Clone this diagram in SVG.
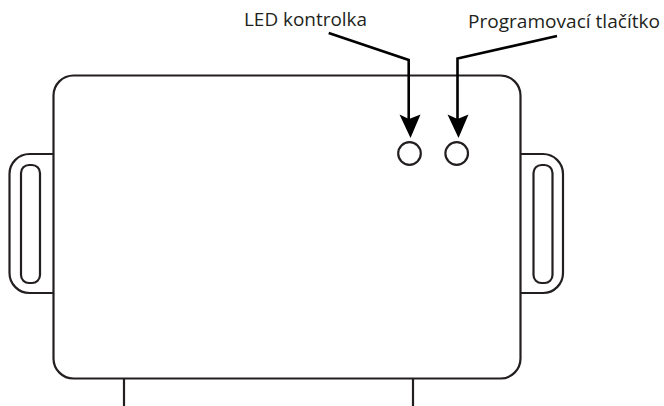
<svg xmlns="http://www.w3.org/2000/svg" width="664" height="406" viewBox="0 0 664 406">
<style>
.o{fill:none;stroke:#231f20;stroke-width:2.2}
.c{fill:none;stroke:#000;stroke-width:2.6}
.h{fill:#000}
text{font-family:"Open Sans","Noto Sans",sans-serif;font-size:18.500px;fill:#231f20}
</style>
<rect width="664" height="406" fill="#fff"/>
<g id="body"><rect class="o" x="53.5" y="75.5" width="467" height="303" rx="20" ry="20"/></g>
<g id="tab-left"><path class="o" d="M53.5 154H29.5a20 20 0 0 0-20 20V273a20 20 0 0 0 20 20H53.5"/><rect class="o" x="21" y="165" width="19" height="118" rx="8"/></g>
<g id="tab-right"><path class="o" d="M520.5 154H543a20 20 0 0 1 20 20V273a20 20 0 0 1-20 20H520.5"/><rect class="o" x="533.5" y="165" width="19" height="118" rx="8"/></g>
<g id="stubs"><path class="o" d="M124 378.5V406M413 378.5V406"/></g>
<g id="led"><circle class="o" cx="409.5" cy="153.5" r="11.3"/></g>
<g id="button"><circle class="o" cx="456.7" cy="153.5" r="11.3"/></g>
<g id="connectors">
<path class="c" d="M328.700 33L408.700 60V122"/>
<path class="h" d="M399.500 114.500L409 119L420.500 114.500L410.500 138Z"/>
<path class="c" d="M557 36L457.500 58.500V122"/>
<path class="h" d="M447.500 114.500L457.500 119L468.500 114.500L458.500 138Z"/>
</g>
<text x="244" y="25.500" textLength="123" lengthAdjust="spacingAndGlyphs">LED kontrolka</text>
<text x="468" y="28" textLength="192" lengthAdjust="spacingAndGlyphs">Programovací tlačítko</text>
</svg>
